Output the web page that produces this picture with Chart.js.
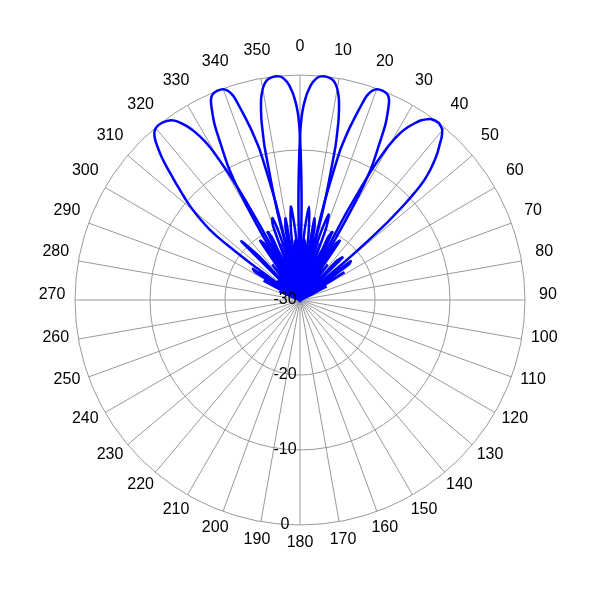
<!DOCTYPE html>
<html>
<head>
<meta charset="utf-8">
<script src="https://cdn.jsdelivr.net/npm/chart.js@4.4.1/dist/chart.umd.min.js"></script>
<style>
  html, body { margin: 0; padding: 0; background: #fff; }
  #wrap { width: 600px; height: 600px; }
</style>
</head>
<body>
<div id="wrap"><canvas id="chart" width="600" height="600"></canvas></div>
<script>
// Multi-beam antenna pattern, polar plot
// angles in degrees (negative = left of 0), levels in dB

const beam1Angles = [-70, -67, -64, -62, -59.5, -58, -56.5, -54, -53.5, -53, -52.5, -52, -51, -50, -49, -48, -47, -46, -45, -44, -43, -42, -41, -40, -39, -37.5, -36, -35, -34, -33, -32, -31, -30.5, -30, -29.5, -29, -28.5, -28, -27.5, -25.5, -24, -22.5, -19.5, -17, -14, -11.5, -8, -5];
const beam1Db = [-30, -27, -30, -24.5, -30, -23, -22.5, -30, -22, -18.5, -16, -14.6, -12.9, -11.4, -10.1, -8.9, -7.6, -6.3, -4.8, -3.4, -2.2, -1.1, -0.4, -0.1, 0, -0.1, -0.4, -0.8, -1.5, -2.4, -3.6, -5.2, -6.4, -8.2, -10.4, -13, -16.5, -21, -30, -20, -21, -30, -22, -30, -24, -30, -25, -30];

const beam2Angles = [-53, -50, -46.5, -45, -43, -40, -38, -35.5, -34, -32.5, -30.5, -30, -29.5, -29, -28.5, -28, -27, -26, -25, -24, -23, -21.5, -20, -19, -18.5, -18, -17.5, -17, -16.5, -16, -15.5, -15, -14.5, -14, -13.5, -11.5, -10, -8, -6, -4, -1.5, 1, 4, 7, 10];
const beam2Db = [-30, -26, -30, -19, -22.5, -30, -24, -30, -20.5, -21, -30, -20, -15.5, -12.5, -10.5, -9.1, -6.8, -4.1, -2.3, -0.8, -0.2, 0, -0.1, -0.5, -0.9, -1.5, -2.7, -3.9, -5.1, -6.3, -7.8, -9.4, -13, -17, -30, -20.5, -19, -30, -23, -22, -30, -24, -30, -25, -30];

const beam3Angles = [-44, -40, -36, -34, -31, -29, -26.5, -25, -23.5, -21.5, -20, -18.5, -17, -15, -14.5, -14, -13.5, -13, -12.5, -12, -11, -10, -9, -8, -6.5, -5, -4, -3, -2, -1.5, -1, -0.5, 0, 0.5, 1, 1.5, 3.5, 5.5, 7.5, 9, 11, 13, 14.5, 17, 19, 23, 26];
const beam3Db = [-30, -26.5, -30, -25.5, -30, -24, -30, -22, -23.5, -30, -19.5, -18.5, -22, -30, -19, -15.5, -12.5, -9, -7, -5.2, -2.8, -1.4, -0.6, -0.2, 0, -0.1, -0.5, -1.2, -2.4, -3.2, -4.2, -5.6, -8.2, -12.5, -18, -30, -21.5, -17.5, -21.5, -30, -23, -24.5, -30, -25.5, -30, -26.5, -30];

const beam4Angles = [-26, -23, -19, -17, -14.5, -13, -11, -9, -7.5, -5.5, -3.5, -1.5, -1, -0.5, 0, 0.5, 1, 1.5, 2, 3, 4, 5, 6.5, 8, 9, 10, 11, 12, 12.5, 13, 13.5, 14, 14.5, 15, 17, 18.5, 20, 21.5, 23.5, 25, 26.5, 29, 31, 34, 36, 40, 44];
const beam4Db = [-30, -26, -30, -25, -30, -24, -22.5, -30, -21, -17.5, -22, -30, -18, -12.5, -8.2, -5.6, -4.2, -3.2, -2.4, -1.2, -0.5, -0.1, 0, -0.2, -0.6, -1.4, -2.8, -5.2, -7, -9, -12.5, -15.5, -19, -30, -21, -18, -20, -30, -23, -22.5, -30, -25, -30, -26, -30, -27, -30];

const beam5Angles = [-10, -7, -4, -1, 1.5, 4, 6, 8, 10, 11.5, 13.5, 14, 14.5, 15, 15.5, 16, 16.5, 17, 17.5, 18, 18.5, 19, 20, 21.5, 23, 24, 25, 26, 27, 28, 28.5, 29, 29.5, 30, 30.5, 32.5, 34, 35.5, 38, 40, 43, 45, 46.5, 50, 53];
const beam5Db = [-30, -25, -30, -24, -30, -22, -23, -30, -19, -20.5, -30, -17, -13, -9.4, -7.8, -6.3, -5.1, -3.9, -2.7, -1.5, -0.9, -0.5, -0.1, 0, -0.2, -0.8, -2.3, -4.1, -6.8, -9.1, -10.5, -12.5, -15.5, -20, -30, -21, -20.5, -30, -24, -30, -23, -22, -30, -26, -30];

const beam6Angles = [5, 8, 11.5, 14, 17, 19.5, 22.5, 24, 25.5, 27.5, 28, 28.5, 29, 29.5, 30, 31, 32, 33, 34, 35, 36, 38, 39.5, 40, 41, 42, 43, 44, 45, 46, 46.5, 47, 47.5, 48, 48.5, 49, 49.5, 50, 52.5, 54, 55.5, 58, 60, 63, 66];
const beam6Db = [-30, -25, -30, -24, -30, -22, -30, -21, -20, -30, -17, -13, -9.6, -7.6, -6, -4, -2.8, -1.9, -1.1, -0.6, -0.2, 0, -0.3, -0.5, -1.2, -2.2, -3.1, -4.2, -5.4, -6.9, -8, -9.4, -11, -13, -15, -18, -22, -30, -21.5, -22, -30, -23, -30, -26, -30];

const radialTicks = [-30, -20, -10, 0];
const angleTicks = [0, 10, 20, 30, 40, 50, 60, 70, 80, 90, 100, 110, 120, 130, 140, 150, 160, 170,
  180, 190, 200, 210, 220, 230, 240, 250, 260, 270, 280, 290, 300, 310, 320, 330, 340, 350];

const STEP = 0.5;
const SLOTS = 360 / STEP;
const labels = Array.from({ length: SLOTS }, (_, i) => i * STEP);

// put a beam onto the 0.5 degree grid of the radar scale
function toSlots(angles, levels) {
  const out = new Array(SLOTS).fill(null);
  angles.forEach((a, i) => {
    out[Math.round(((a + 360) % 360) / STEP)] = levels[i];
  });
  return out;
}

const beams = [
  [beam1Angles, beam1Db],
  [beam2Angles, beam2Db],
  [beam3Angles, beam3Db],
  [beam4Angles, beam4Db],
  [beam5Angles, beam5Db],
  [beam6Angles, beam6Db]
];

const FONT = '16px "Liberation Sans", Arial, sans-serif';

const labelPlugin = {
  id: 'polarLabels',
  afterDraw(chart) {
    const scale = chart.scales.r;
    const ctx = chart.ctx;
    ctx.save();
    ctx.font = FONT;
    ctx.fillStyle = '#000';
    ctx.textAlign = 'center';
    ctx.textBaseline = 'middle';
    angleTicks.forEach(deg => {
      const p = scale.getPointPosition(deg / STEP, scale.drawingArea + 23);
      ctx.fillText(String(deg), p.x, p.y - 5);
    });
    radialTicks.forEach(v => {
      const d = scale.getDistanceFromCenterForValue(v);
      ctx.fillText(String(v), scale.xCenter - 15, scale.yCenter + d);
    });
    ctx.restore();
  }
};

const isMajor = c => c.index % (10 / STEP) === 0;

new Chart(document.getElementById('chart'), {
  type: 'radar',
  data: {
    labels: labels,
    datasets: beams.map(([angles, levels]) => ({
      data: toSlots(angles, levels),
      borderColor: '#0000ff',
      borderWidth: 2.5,
      pointRadius: 0,
      fill: false,
      spanGaps: true,
      tension: 0.3
    }))
  },
  options: {
    responsive: false,
    animation: false,
    layout: { padding: 75 },
    plugins: {
      legend: { display: false },
      tooltip: { enabled: false }
    },
    scales: {
      r: {
        min: -30,
        max: 0,
        startAngle: 0,
        ticks: { display: false, stepSize: 10 },
        pointLabels: { display: false },
        grid: { circular: true, color: '#999', lineWidth: 1 },
        angleLines: {
          color: c => isMajor(c) ? '#999' : 'rgba(0,0,0,0)',
          lineWidth: c => isMajor(c) ? 1 : 0
        }
      }
    }
  },
  plugins: [labelPlugin]
});
</script>
</body>
</html>
